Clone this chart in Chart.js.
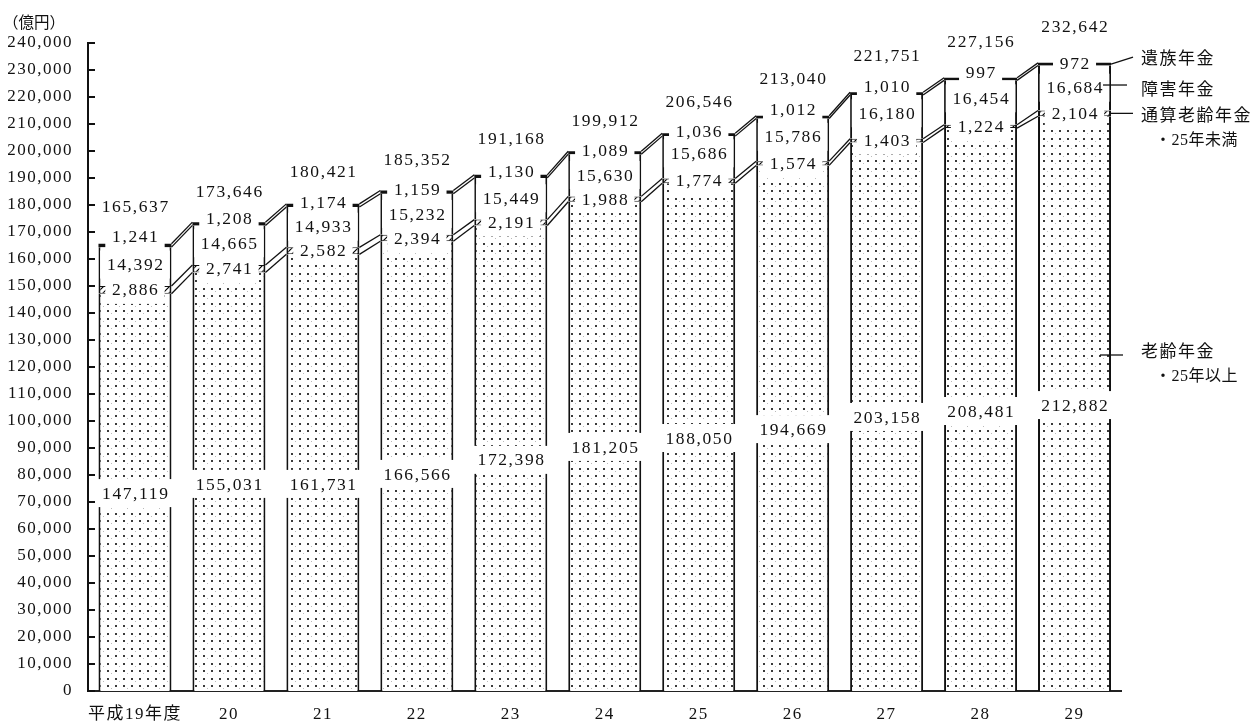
<!DOCTYPE html>
<html>
<head>
<meta charset="utf-8">
<script src="https://cdn.jsdelivr.net/npm/chart.js@4.4.1/dist/chart.umd.min.js"></script>
<style>
html,body{margin:0;padding:0;background:#fff;}
canvas{display:block;}
</style>
</head>
<body>
<canvas id="c" width="1254" height="725"></canvas>
<script>
// ---- data ----
const categories = ['平成19年度','20','21','22','23','24','25','26','27','28','29'];
const seriesNames = ['老齢年金・25年以上','通算老齢年金・25年未満','障害年金','遺族年金'];
const oldAge     = [147119,155031,161731,166566,172398,181205,188050,194669,203158,208481,212882];
const tsusan     = [2886,2741,2582,2394,2191,1988,1774,1574,1403,1224,2104];
const disability = [14392,14665,14933,15232,15449,15630,15686,15786,16180,16454,16684];
const survivor   = [1241,1208,1174,1159,1130,1089,1036,1012,1010,997,972];
const totals     = [165637,173646,180421,185352,191168,199912,206546,213040,221751,227156,232642];
const unitLabel = '（億円）';
const yMin = 0, yMax = 240000, yStep = 10000;

// ---- label placement (layout only) ----
const totalLabelNudge     = [-37.6,-30.5,-32.2,-31.3,-36.6,-31.2,-31.6,-37.5,-37.3,-36,-36.2];
const survivorLabelNudge  = [-9.3,-5.5,-2.8,-3,-4.7,-2.7,-3.7,-7.9,-7.7,-6.4,-1];
const disabilityLabelNudge= [-2,-2,-0.5,-0.3,-0.5,-0.3,-4,-3,-3.6,-4.3,-0.3];
const oldAgeLabelAt       = [73300,76700,76700,80400,85600,90400,93700,97000,101500,103700,105900];

const NUM_FAMILY = "'Liberation Serif','Noto Sans CJK JP',serif";
const JP_FAMILY = "'Noto Sans CJK JP','Liberation Serif',sans-serif";
const INK = '#111';
const fmt = v => v.toLocaleString('en-US');

const canvas = document.getElementById('c');
const mainCtx = canvas.getContext('2d');

const dotPattern = (() => {
  const c = document.createElement('canvas'); c.width = 16; c.height = 15;
  const g = c.getContext('2d');
  g.fillStyle = '#fff'; g.fillRect(0,0,16,15);
  g.fillStyle = '#3a3a3a';
  [[3,3],[11,3],[3,10],[11,10]].forEach(([x,y]) => g.fillRect(x,y,2,2));
  g.fillStyle = '#bbb';
  [[7,6],[15,13]].forEach(([x,y]) => g.fillRect(x,y,1,1));
  return mainCtx.createPattern(c,'repeat');
})();
const hatchPattern = (() => {
  const c = document.createElement('canvas'); c.width = 6; c.height = 6;
  const g = c.getContext('2d');
  g.fillStyle = '#fff'; g.fillRect(0,0,6,6);
  g.strokeStyle = '#000'; g.lineWidth = 1.2;
  g.beginPath();
  g.moveTo(0,6); g.lineTo(6,0);
  g.moveTo(-1,1); g.lineTo(1,-1);
  g.moveTo(5,7); g.lineTo(7,5);
  g.stroke();
  return mainCtx.createPattern(c,'repeat');
})();

const spacingPlugin = {
  id: 'spacing',
  beforeLayout(chart){ chart.ctx.letterSpacing = '1.5px'; },
  beforeDraw(chart){ chart.ctx.letterSpacing = '1.5px'; }
};

function segCenter(meta, i){ const e = meta.data[i]; return (e.y + e.base) / 2; }

const annotatePlugin = {
  id: 'annotate',
  afterDatasetsDraw(chart){
    const ctx = chart.ctx;
    const ys = chart.scales.y;
    const metas = [0,1,2,3].map(k => chart.getDatasetMeta(k));
    const n = categories.length;

    // series connector lines
    ctx.save();
    ctx.strokeStyle = INK; ctx.lineWidth = 1.3;
    for (let i = 0; i < n - 1; i++) {
      const a = metas[0].data[i], b = metas[0].data[i+1];
      const x1 = a.x + a.width/2, x2 = b.x - b.width/2;
      for (let k = 0; k < 4; k++) {
        ctx.beginPath();
        ctx.moveTo(x1, metas[k].data[i].y);
        ctx.lineTo(x2, metas[k].data[i+1].y);
        ctx.stroke();
      }
    }
    ctx.restore();

    // value labels
    const labels = [];
    for (let i = 0; i < n; i++) {
      const x = metas[0].data[i].x;
      labels.push({x, y: metas[3].data[i].y + totalLabelNudge[i], t: fmt(totals[i])});
      labels.push({x, y: segCenter(metas[3], i) + survivorLabelNudge[i], t: fmt(survivor[i])});
      labels.push({x, y: segCenter(metas[2], i) + disabilityLabelNudge[i], t: fmt(disability[i])});
      labels.push({x, y: segCenter(metas[1], i), t: fmt(tsusan[i])});
      labels.push({x, y: ys.getPixelForValue(oldAgeLabelAt[i]), t: fmt(oldAge[i])});
    }
    ctx.save();
    ctx.letterSpacing = '1.6px';
    ctx.font = "17.5px " + NUM_FAMILY;
    ctx.textAlign = 'center'; ctx.textBaseline = 'middle';
    labels.forEach(l => { l.w = ctx.measureText(l.t).width; });
    ctx.fillStyle = '#fff';
    labels.forEach(l => { ctx.fillRect(l.x - l.w/2 - 6, l.y - 14, l.w + 12, 28); });
    ctx.fillStyle = INK;
    labels.forEach(l => { ctx.fillText(l.t, l.x + 0.8, l.y + 1); });
    ctx.restore();
  },
  afterDraw(chart){
    const ctx = chart.ctx;
    const ys = chart.scales.y;
    const area = chart.chartArea;
    // inward tick marks on the value axis
    ctx.save();
    ctx.strokeStyle = INK; ctx.lineWidth = 2;
    ys.ticks.forEach(t => {
      const y = Math.round(ys.getPixelForValue(t.value));
      ctx.beginPath(); ctx.moveTo(area.left, y); ctx.lineTo(area.left + 7, y); ctx.stroke();
    });
    ctx.restore();

    // unit label
    ctx.save();
    ctx.letterSpacing = '0px';
    ctx.font = "15.5px " + JP_FAMILY;
    ctx.fillStyle = INK; ctx.textAlign = 'left'; ctx.textBaseline = 'middle';
    ctx.fillText(unitLabel, 3, 22);
    ctx.restore();

    // side legend with leader lines, anchored on the last bar
    const last = categories.length - 1;
    const metas = [0,1,2,3].map(k => chart.getDatasetMeta(k));
    const bar = metas[0].data[last];
    const right = bar.x + bar.width/2;
    const items = [
      {main:'遺族年金', sub:null, ly0: segCenter(metas[3], last), lx0: right, lx1: right + 22, ly1: segCenter(metas[3], last) - 7, ty: segCenter(metas[3], last) - 7},
      {main:'障害年金', sub:null, ly0: segCenter(metas[2], last) - 3, lx0: right - 8, lx1: right + 16, ly1: segCenter(metas[2], last) - 3, ty: segCenter(metas[2], last) + 1},
      {main:'通算老齢年金', sub:'・25年未満', ly0: segCenter(metas[1], last), lx0: right - 1, lx1: right + 22, ly1: segCenter(metas[1], last), ty: segCenter(metas[1], last) + 1},
      {main:'老齢年金', sub:'・25年以上', ly0: 355, lx0: right - 11, lx1: right + 12, ly1: 355, ty: 351}
    ];
    ctx.save();
    ctx.strokeStyle = INK; ctx.lineWidth = 1.3;
    items.forEach(it => { ctx.beginPath(); ctx.moveTo(it.lx0, it.ly0); ctx.lineTo(it.lx1, it.ly1); ctx.stroke(); });
    ctx.fillStyle = INK; ctx.textAlign = 'left'; ctx.textBaseline = 'middle';
    ctx.letterSpacing = '1.5px';
    items.forEach(it => {
      ctx.font = "17px " + JP_FAMILY;
      ctx.fillText(it.main, right + 30, it.ty);
      if (it.sub) {
        ctx.letterSpacing = '0.5px';
        ctx.font = "16px " + NUM_FAMILY;
        ctx.fillText(it.sub, right + 44, it.ty + 26);
        ctx.letterSpacing = '1.5px';
      }
    });
    ctx.restore();
  }
};

const sideBorder = {left:2, right:2, top:0, bottom:0};

new Chart(canvas, {
  type: 'bar',
  data: {
    labels: categories,
    datasets: [
      {label: seriesNames[0], data: oldAge, backgroundColor: dotPattern, borderColor: INK, borderWidth: sideBorder, borderSkipped: false},
      {label: seriesNames[1], data: tsusan, backgroundColor: hatchPattern, borderColor: INK, borderWidth: {left:2,right:2,top:1,bottom:1}, borderSkipped: false},
      {label: seriesNames[2], data: disability, backgroundColor: '#fff', borderColor: INK, borderWidth: sideBorder, borderSkipped: false},
      {label: seriesNames[3], data: survivor, backgroundColor: INK, borderColor: INK, borderWidth: 0, borderSkipped: false}
    ]
  },
  options: {
    responsive: false,
    devicePixelRatio: 1,
    animation: false,
    events: [],
    barPercentage: 0.777,
    categoryPercentage: 1,
    layout: {padding: {left: 0, right: 132.5, top: 43, bottom: 0}},
    plugins: {legend: {display: false}, title: {display: false}, tooltip: {enabled: false}},
    scales: {
      x: {
        stacked: true,
        grid: {display: false, drawTicks: false},
        border: {display: true, color: '#222', width: 2},
        ticks: {font: {family: NUM_FAMILY, size: 17}, color: INK, padding: 13, maxRotation: 0, autoSkip: false},
        afterFit: s => { s.height = 34; }
      },
      y: {
        stacked: true,
        min: yMin, max: yMax,
        grid: {display: false, drawTicks: false},
        border: {display: true, color: INK, width: 2},
        ticks: {stepSize: yStep, font: {family: NUM_FAMILY, size: 17}, color: INK, padding: 15, callback: v => fmt(v)},
        afterFit: s => { s.width = 88; }
      }
    }
  },
  plugins: [spacingPlugin, annotatePlugin]
});
</script>
</body>
</html>
